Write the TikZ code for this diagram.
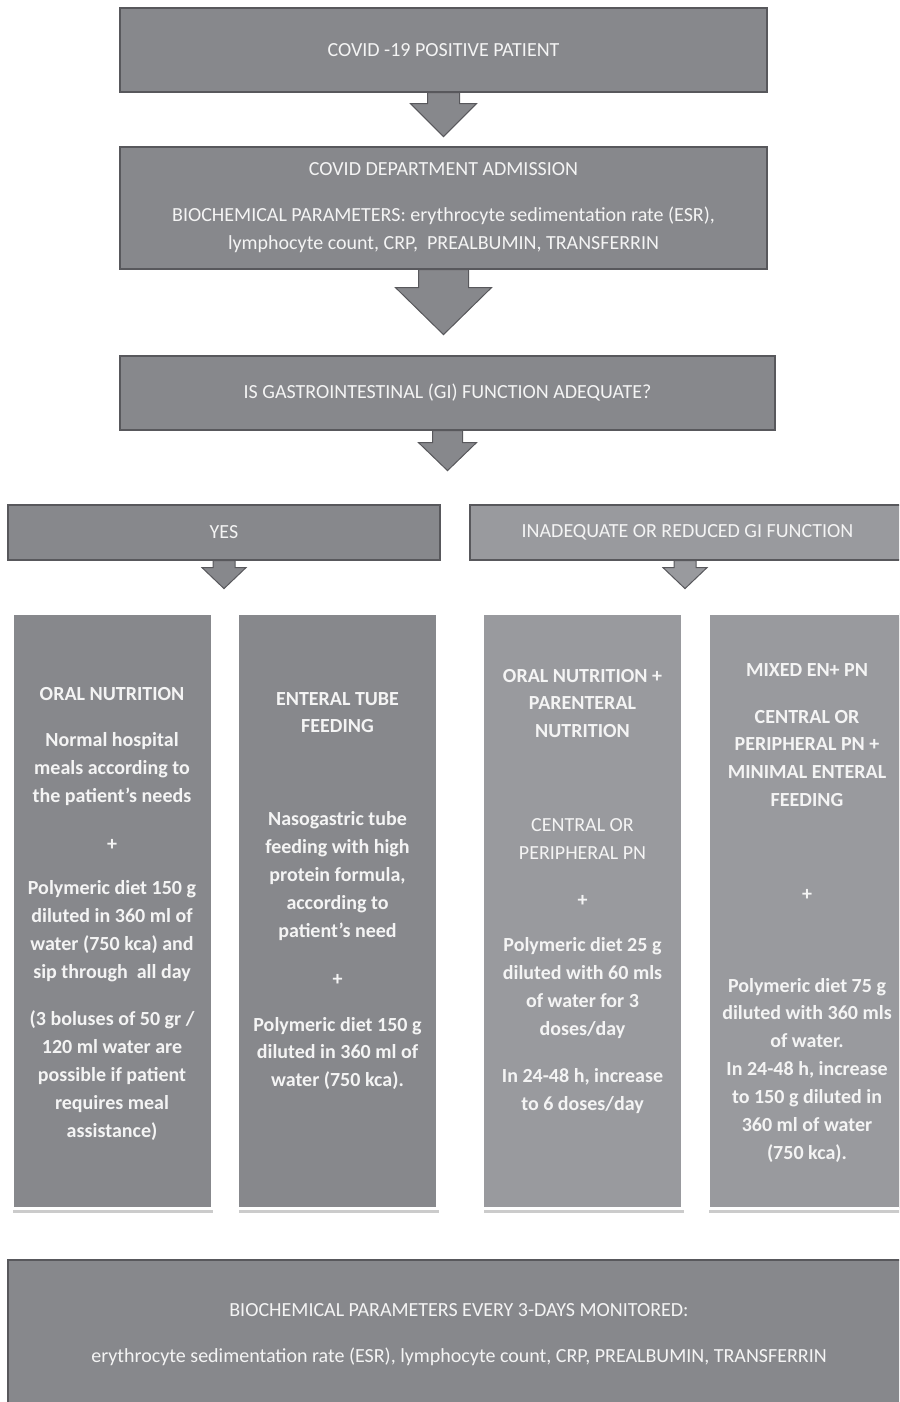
\documentclass[tikz,border=0pt]{standalone}
\usepackage{fontspec}
\setmainfont{Carlito}
\usepackage{tikz}
\usetikzlibrary{positioning,shadows}
\definecolor{boxgray}{RGB}{135,136,140}
\definecolor{boxlight}{RGB}{153,154,158}
\definecolor{boxedge}{RGB}{88,88,92}
\definecolor{txtwhite}{RGB}{244,244,244}
\tikzset{
  mainbox/.style = {rectangle, draw=boxedge, line width=1.2pt, fill=boxgray,
    text=txtwhite, align=center, inner sep=0pt,
    font=\fontsize{20}{28}\selectfont},
  colbox/.style = {rectangle, draw=white, line width=3pt, fill=boxgray,
    inner sep=0pt, minimum width=200pt, minimum height=595pt,
    drop shadow={shadow xshift=1pt, shadow yshift=-5pt, fill=black!40, opacity=0.5}},
  coltext/.style = {text=txtwhite, align=center, inner sep=0pt,
    font=\bfseries\fontsize{20}{28}\selectfont},
  blkarrow/.style = {fill=boxgray, draw=boxedge, line width=1pt},
}

\begin{document}
\begin{tikzpicture}[x=1pt,y=-1pt]
\path[use as bounding box,clip] (0,0) rectangle (899,1402);
\fill[white] (0,0) rectangle (899,1402);
% main flow
\node[mainbox, minimum width=647pt, minimum height=84pt] (covid) at (443.5,50)
  {COVID -19 POSITIVE PATIENT};
\node[mainbox, minimum width=647pt, minimum height=122pt] (admit) at (443.5,208)
  {COVID DEPARTMENT ADMISSION\\[18pt]
   BIOCHEMICAL PARAMETERS: erythrocyte sedimentation rate (ESR),\\
   lymphocyte count, CRP,\ \ PREALBUMIN, TRANSFERRIN};
\node[mainbox, minimum width=655pt, minimum height=74pt] (gicheck) at (447.5,393)
  {IS GASTROINTESTINAL (GI) FUNCTION ADEQUATE?};
\node[mainbox, minimum width=432pt, minimum height=55pt] (yes) at (224,532.5) {YES};
\node[mainbox, fill=boxlight, minimum width=435pt, minimum height=55pt] (inadeq) at (687.5,532.5)
  {INADEQUATE OR REDUCED GI FUNCTION};
% block arrows
\draw[blkarrow] ([xshift=-16pt]covid.south) -- ++(0,11) -- ++(-17,0) -- ++(33,33)
  -- ++(33,-33) -- ++(-17,0) -- ++(0,-11) -- cycle;
\draw[blkarrow] ([xshift=-25pt]admit.south) -- ++(0,18) -- ++(-23,0) -- ++(48,47)
  -- ++(48,-47) -- ++(-23,0) -- ++(0,-18) -- cycle;
\draw[blkarrow] ([xshift=-15pt]gicheck.south) -- ++(0,12) -- ++(-14,0) -- ++(29,28)
  -- ++(29,-28) -- ++(-14,0) -- ++(0,-12) -- cycle;
\draw[blkarrow] ([xshift=-11pt]yes.south) -- ++(0,7) -- ++(-11,0) -- ++(22,21)
  -- ++(22,-21) -- ++(-11,0) -- ++(0,-7) -- cycle;
\draw[blkarrow, fill=boxlight] ([xshift=-13.5pt]inadeq.south) -- ++(0,7) -- ++(-11,0) -- ++(22,21)
  -- ++(22,-21) -- ++(-11,0) -- ++(0,-7) -- cycle;
% columns
\node[colbox] (col1) at (112,910.5) {};
\node[colbox] (col2) at (337.5,910.5) {};
\node[colbox, fill=boxlight] (col3) at (582.5,910.5) {};
\node[colbox, fill=boxlight] (col4) at (808,910.5) {};
\node[coltext] (oral) at (112,913.5)
  {ORAL NUTRITION\\[18pt]
   Normal hospital\\ meals according to\\ the patient's needs\\[20pt]
   +\\[16pt]
   Polymeric diet 150 g\\ diluted in 360 ml of\\ water (750 kca) and\\ sip through\ \ all day\\[19pt]
   (3 boluses of 50 gr /\\ 120 ml water are\\ possible if patient\\ requires meal\\ assistance)};
\node[coltext] (enteral) at (337.5,891.5)
  {ENTERAL TUBE\\[-1pt] FEEDING\\[65pt]
   Nasogastric tube\\ feeding with high\\ protein formula,\\ according to\\ patient’s need\\[20pt]
   +\\[18pt]
   Polymeric diet 150 g\\[-1pt] diluted in 360 ml of\\ water (750 kca).};
\node[coltext] (oralpn) at (582.5,892)
  {ORAL NUTRITION +\\[-1pt] PARENTERAL\\ NUTRITION\\[66pt]
   \mdseries CENTRAL OR\\ \mdseries PERIPHERAL PN\\[19pt]
   \bfseries +\\[17pt]
   Polymeric diet 25 g\\ diluted with 60 mls\\ of water for 3\\ doses/day\\[19pt]
   In 24-48 h, increase\\ to 6 doses/day};
\node[coltext] (mixed) at (807,913.5)
  {MIXED EN+ PN\\[19pt]
   CENTRAL OR\\[-1pt] PERIPHERAL PN +\\ MINIMAL ENTERAL\\ FEEDING\\[66pt]
   +\\[64pt]
   Polymeric diet 75 g\\[-1pt] diluted with 360 mls\\ of water.\\ In 24-48 h, increase\\ to 150 g diluted in\\ 360 ml of water\\ (750 kca).};
% monitoring
\node[mainbox, minimum width=902pt, minimum height=150pt] (monitor) at (459,1335)
  {BIOCHEMICAL PARAMETERS EVERY 3-DAYS MONITORED:\\[18pt]
   erythrocyte sedimentation rate (ESR), lymphocyte count, CRP, PREALBUMIN, TRANSFERRIN};
\end{tikzpicture}
\end{document}
